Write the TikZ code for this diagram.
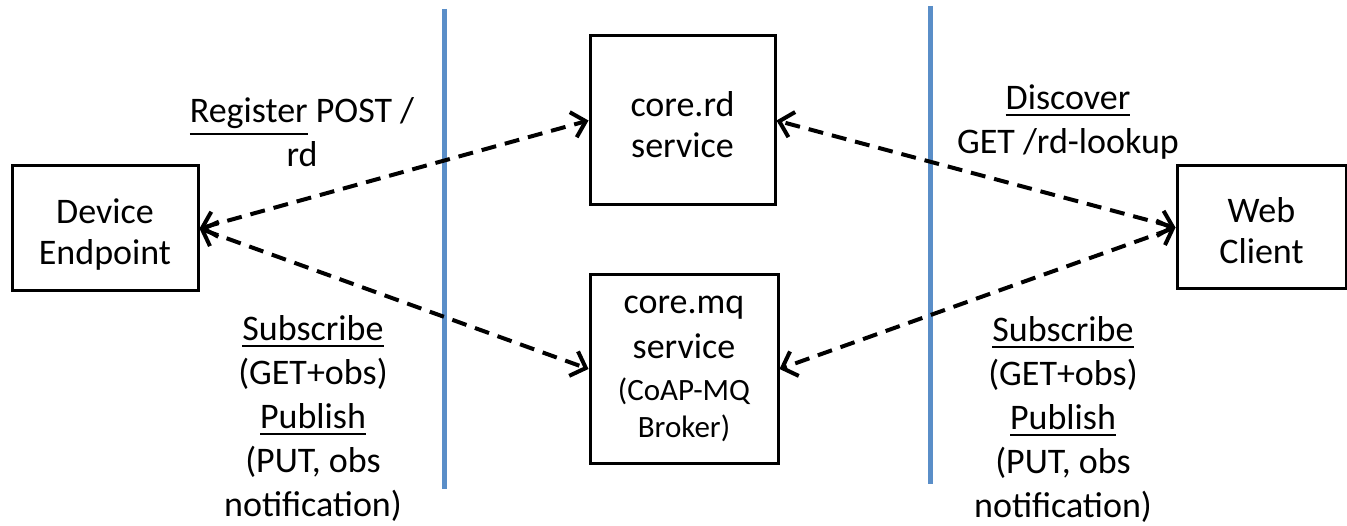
\documentclass[tikz,border=0pt]{standalone}
\usepackage{fontspec}
\setmainfont{Carlito}
\usetikzlibrary{arrows.meta}

\definecolor{divblue}{RGB}{90,142,200}

% underlined word with a heavier rule set a given distance below the baseline
\newsavebox\ulbox
\newcommand\ulword[2][7pt]{\leavevmode\sbox\ulbox{#2}%
  \rlap{\raisebox{-#1}{\rule{\wd\ulbox}{2.5pt}}}\usebox\ulbox}
% invisible strut that pushes a centred text block down a little
\newcommand\pushdown[1]{\rule{0pt}{#1}}

\newcommand\boxfont{\fontsize{36}{41}\selectfont}
\newcommand\lblfont{\fontsize{36}{44}\selectfont}
\newcommand\smallboxfont{\fontsize{31}{37}\selectfont}

\tikzset{
  box/.style={draw, line width=3pt, inner sep=0pt, align=center, font=\boxfont},
  link/.style={line width=4pt, dash pattern=on 15pt off 9pt,
    {Straight Barb[length=13pt,width=26pt,line width=4pt]}-{Straight Barb[length=13pt,width=26pt,line width=4pt]}},
  divider/.style={line width=5pt, draw=divblue},
  lbl/.style={align=center, font=\lblfont, inner sep=0pt}
}

\begin{document}
\begin{tikzpicture}[x=1pt, y=-1pt]
  \useasboundingbox (0,0) rectangle (1347,526);

  % trust boundaries
  \coordinate (l1top) at (444,9);
  \coordinate (l1bot) at (444,489);
  \coordinate (l2top) at (930,6);
  \coordinate (l2bot) at (930,484);
  \draw[divider] (l1top) -- (l1bot);
  \draw[divider] (l2top) -- (l2bot);

  % parties
  \node[box, minimum width=186pt, minimum height=125pt] (dev) at (105,228.5)
    {\pushdown{36pt}Device\\Endpoint};
  \node[box, minimum width=185pt, minimum height=169pt] (rd) at (682.5,120.5)
    {\pushdown{34pt}core.rd\\service};
  \node[box, minimum width=188pt, minimum height=188pt] (mq) at (684,369)
    {core.mq\\[4pt]service\\[1pt]{\smallboxfont(CoAP-MQ}\\[-4pt]{\smallboxfont Broker)}};
  \node[box, minimum width=169pt, minimum height=123pt] (web) at (1261.5,227.5)
    {\pushdown{32pt}Web\\Client};

  % interactions
  \draw[link] (dev.east) -- (rd.west);
  \draw[link] (dev.east) -- (mq.west);
  \draw[link] (web.west) -- (rd.east);
  \draw[link] (web.west) -- (mq.east);

  % operation labels
  \node[lbl] (reg) at (302,132) {\ulword[13pt]{Register} POST /\\rd};
  \node[lbl] (disc) at (1068,122) {\ulword{Discover}\\GET /rd-lookup};
  \node[lbl] (pubsubl) at (313,418) {\ulword{Subscribe}\\(GET+obs)\\\ulword{Publish}\\(PUT, obs\\notification)};
  \node[lbl] (pubsubr) at (1063,419) {\ulword{Subscribe}\\(GET+obs)\\\ulword{Publish}\\(PUT, obs\\notification)};
\end{tikzpicture}
\end{document}
